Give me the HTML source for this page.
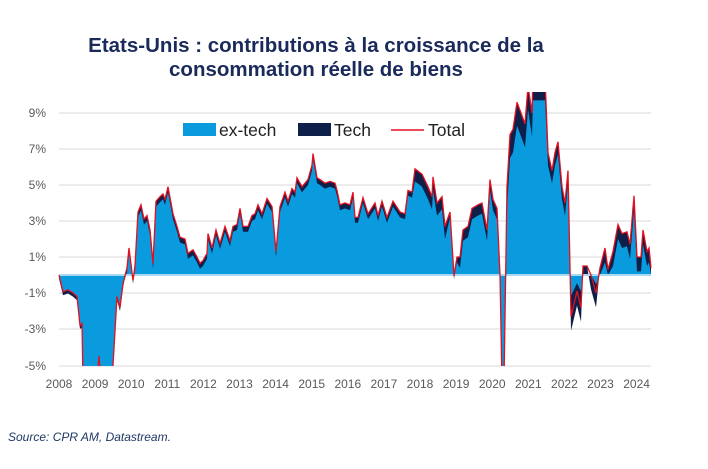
<!DOCTYPE html>
<html><head><meta charset="utf-8"><style>
body{margin:0;background:#fff;width:708px;height:464px;overflow:hidden;font-family:"Liberation Sans",sans-serif}
</style></head><body>
<svg id="s" width="708" height="464" xmlns="http://www.w3.org/2000/svg" font-family="Liberation Sans, sans-serif">
<text x="316" y="52" text-anchor="middle" font-size="20.5" font-weight="bold" fill="#1a2a5a">Etats-Unis : contributions à la croissance de la</text>
<text x="316" y="76" text-anchor="middle" font-size="20.5" font-weight="bold" fill="#1a2a5a">consommation réelle de biens</text>
<g stroke="#d9d9d9" stroke-width="1">
<line x1="59" x2="651" y1="113" y2="113"/><line x1="59" x2="651" y1="149" y2="149"/>
<line x1="59" x2="651" y1="185" y2="185"/><line x1="59" x2="651" y1="221" y2="221"/>
<line x1="59" x2="651" y1="257" y2="257"/><line x1="59" x2="651" y1="293" y2="293"/>
<line x1="59" x2="651" y1="329" y2="329"/><line x1="59" x2="651" y1="366" y2="366"/>
</g>
<g font-size="12" fill="#595959" text-anchor="end">
<text x="46" y="117">9%</text><text x="46" y="153">7%</text><text x="46" y="189">5%</text>
<text x="46" y="225">3%</text><text x="46" y="261">1%</text><text x="46" y="297">-1%</text>
<text x="46" y="333">-3%</text><text x="46" y="370">-5%</text>
</g>
<g id="xl" font-size="12" fill="#595959" text-anchor="middle"></g>
<defs><clipPath id="c"><rect x="55" y="92" width="600" height="274"/></clipPath></defs>
<g clip-path="url(#c)">
<path id="dark" fill="#0e1f4a"/>
<path id="light" fill="#0a9ade"/>
<line x1="59" x2="651" y1="275" y2="275" stroke="#a9d8f0" stroke-width="2"/>
<path id="red" fill="none" stroke="#e3101f" stroke-width="1.3"/>
</g>
<rect x="183" y="123" width="33" height="13" fill="#0a9ade"/>
<text x="219" y="136" font-size="17.5" fill="#222">ex-tech</text>
<rect x="298" y="123" width="33" height="13" fill="#0e1f4a"/>
<text x="334" y="136" font-size="17.5" fill="#222">Tech</text>
<line x1="391" x2="424" y1="130" y2="130" stroke="#e3101f" stroke-width="1.5"/>
<text x="428" y="136" font-size="17.5" fill="#222">Total</text>
<text x="8" y="441" font-size="12" font-style="italic" fill="#1f3864">Source: CPR AM, Datastream.</text>
</svg>
<script>
var d=[[59,0],[63,-0.93],[68,-0.83],[73,-1],[77,-1.2],[80,-2.8],[82,-2.7],[83,-6],[97,-6],[99,-4.5],[101,-6],[112,-6],[117,-1.2],[120,-1.8],[123,-0.5],[127,0.4],[129,1.5],[133,-0.3],[135,0.5],[138,3.5],[141,3.9],[144,3.1],[147,3.3],[150,2.5],[153,0.65],[156,4.1],[160,4.35],[163,4.5],[165,4.2],[168,4.9],[173,3.4],[177,2.7],[180,2.1],[185,2.0],[188,1.2],[193,1.4],[197,1.0],[200,0.65],[203,0.8],[207,1.2],[208,2.3],[212,1.5],[216,2.5],[220,1.75],[225,2.7],[230,1.9],[233,2.7],[237,2.8],[240,3.7],[243,2.7],[248,2.7],[252,3.3],[255,3.4],[258,3.9],[262,3.4],[267,4.25],[272,3.8],[276,1.3],[280,3.8],[285,4.6],[288,4.1],[292,4.8],[295,4.6],[297,5.4],[302,4.9],[305,5.1],[308,5.3],[312,6.1],[313,6.75],[317,5.4],[320,5.3],[325,5.1],[330,5.2],[335,5.1],[337,4.7],[340,3.9],[345,4.0],[350,3.9],[353,4.6],[355,3.2],[358,3.2],[363,4.3],[368,3.4],[375,4.0],[378,3.3],[382,4.1],[387,3.2],[393,4.1],[400,3.5],[405,3.4],[408,4.7],[412,4.6],[415,5.9],[422,5.6],[428,4.9],[432,4.35],[433,5.45],[437,4.0],[442,4.35],[445,2.7],[450,3.5],[454,-0.05],[457,1.0],[460,1.0],[463,2.5],[468,2.7],[472,3.7],[478,3.9],[482,4.0],[487,2.5],[490,5.3],[493,4.2],[497,3.7],[500,0],[502,-6],[504,-6],[507,4.9],[510,7.8],[513,8.1],[517,9.6],[521,9],[525,8.4],[528,10.5],[532,9],[533,11],[545,11],[548,6.8],[552,5.8],[555,6.8],[558,7.4],[562,4.9],[565,4.0],[568,5.8],[571,-2.3],[574,-1.6],[577,-0.9],[581,-1.8],[583,0.5],[587,0.5],[591,0],[596,-1.0],[600,0.4],[605,1.5],[608,0.3],[613,1.3],[618,2.8],[622,2.3],[627,2.4],[630,1.7],[634,4.4],[637,1.0],[641,1.0],[643,2.5],[647,1.3],[649,1.5],[651,0.4]];
function t(x){if(x>=415&&x<=445)return 0.7;if(x>=460&&x<=500)return 0.6;if(x>=507&&x<=545)return 1.3;if(x>=548&&x<570)return 0.7;if(x>=570)return 0.8;return 0.3;}
function Y(v){return 275-v*18;}
var red="",dk="M59 275",lt="M59 275";
d.forEach(function(p,i){var x=p[0],v=p[1],k=t(x);
red+=(i?"L":"M")+x+" "+Y(v).toFixed(1);
var dv=v>0?v:v-(x>=570?k:0.2);var lv=v>0?Math.max(v-k,0):v*(x>=570?0.5:1);
dk+="L"+x+" "+Y(dv).toFixed(1);lt+="L"+x+" "+Y(lv).toFixed(1);});
dk+="L651 275Z";lt+="L651 275Z";
document.getElementById("red").setAttribute("d",red);
document.getElementById("dark").setAttribute("d",dk);
document.getElementById("light").setAttribute("d",lt);
var g=document.getElementById("xl"),h="";
for(var y=2008;y<=2024;y++){h+='<text x="'+(59+36.1*(y-2008)).toFixed(1)+'" y="388">'+y+'</text>';}
g.innerHTML=h;
</script>
</body></html>
